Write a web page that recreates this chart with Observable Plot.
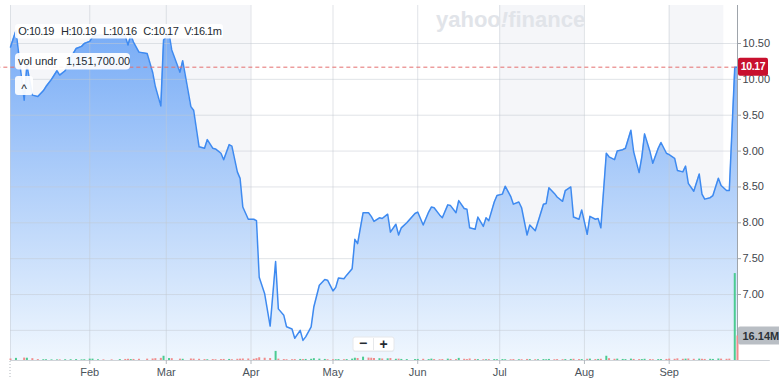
<!DOCTYPE html>
<html><head><meta charset="utf-8">
<script src="https://cdn.jsdelivr.net/npm/d3@7"></script>
<script src="https://cdn.jsdelivr.net/npm/@observablehq/plot@0.6"></script>
<style>
body{margin:0;background:#fff;}
#wrap{position:relative;width:779px;height:380px;overflow:hidden;font-family:"Liberation Sans",Arial,sans-serif;}
#wrap svg{position:absolute;left:0;top:0;}
</style></head><body><div id="wrap"></div>
<script>
// ---- data ----
const dates = [
"2023-01-03","2023-01-05","2023-01-08","2023-01-09","2023-01-11","2023-01-13","2023-01-15","2023-01-16","2023-01-18","2023-01-20","2023-01-21","2023-01-23","2023-01-25","2023-01-27","2023-01-29","2023-01-30",
"2023-02-01","2023-02-02","2023-02-04","2023-02-06","2023-02-09","2023-02-12","2023-02-14","2023-02-15","2023-02-16","2023-02-17","2023-02-19","2023-02-22","2023-02-24","2023-02-25","2023-02-27","2023-02-28",
"2023-03-02","2023-03-03","2023-03-06","2023-03-07","2023-03-10","2023-03-11","2023-03-13","2023-03-15","2023-03-16","2023-03-18","2023-03-19","2023-03-21","2023-03-22","2023-03-24","2023-03-25","2023-03-27","2023-03-28","2023-03-29","2023-03-31",
"2023-04-02","2023-04-03","2023-04-04","2023-04-06","2023-04-08","2023-04-10","2023-04-11","2023-04-13","2023-04-14","2023-04-16","2023-04-17","2023-04-19","2023-04-20","2023-04-21","2023-04-23","2023-04-24","2023-04-26","2023-04-28","2023-04-29",
"2023-05-01","2023-05-02","2023-05-03","2023-05-05","2023-05-06","2023-05-08","2023-05-09","2023-05-10","2023-05-12","2023-05-14","2023-05-15","2023-05-16","2023-05-18","2023-05-19","2023-05-21","2023-05-22","2023-05-24","2023-05-25","2023-05-26","2023-05-28","2023-05-31",
"2023-06-01","2023-06-03","2023-06-05","2023-06-06","2023-06-07","2023-06-09","2023-06-10","2023-06-12","2023-06-13","2023-06-15","2023-06-16","2023-06-18","2023-06-19","2023-06-20","2023-06-22","2023-06-23","2023-06-25","2023-06-26","2023-06-27","2023-06-29","2023-06-30",
"2023-07-02","2023-07-03","2023-07-05","2023-07-06","2023-07-08","2023-07-09","2023-07-11","2023-07-12","2023-07-14","2023-07-15","2023-07-17","2023-07-18","2023-07-19","2023-07-21","2023-07-22","2023-07-24","2023-07-25","2023-07-27","2023-07-28","2023-07-30","2023-07-31",
"2023-08-02","2023-08-03","2023-08-05","2023-08-06","2023-08-07","2023-08-09","2023-08-10","2023-08-12","2023-08-13","2023-08-15","2023-08-16","2023-08-18","2023-08-19","2023-08-21","2023-08-22","2023-08-23","2023-08-25","2023-08-26","2023-08-28","2023-08-29","2023-08-31",
"2023-09-01","2023-09-03","2023-09-04","2023-09-06","2023-09-07","2023-09-08","2023-09-10","2023-09-12","2023-09-13","2023-09-14","2023-09-16","2023-09-17","2023-09-19","2023-09-20","2023-09-22","2023-09-23","2023-09-25","2023-09-26"
];
const closes = [
10.45,10.68,9.71,10.20,9.78,9.76,9.84,9.90,10.00,10.12,10.06,10.12,10.30,10.43,10.46,10.50,
10.53,10.59,10.62,10.62,10.61,10.62,10.60,10.48,10.62,10.52,10.38,10.36,10.10,9.90,9.63,10.55,
10.64,10.41,10.10,10.26,9.62,9.57,9.06,9.04,9.16,9.04,9.03,8.97,8.88,9.09,9.07,8.71,8.62,8.22,8.05,
8.05,8.03,7.24,7.01,6.56,7.46,6.80,6.71,6.55,6.52,6.39,6.50,6.36,6.41,6.55,6.83,7.13,7.21,7.20,
7.05,7.10,7.23,7.22,7.27,7.36,7.77,7.71,8.14,8.14,8.09,8.02,8.07,8.06,8.12,7.87,7.98,7.83,7.93,8.00,8.13,
8.15,7.97,8.15,8.22,8.21,8.11,8.07,8.25,8.24,8.14,8.31,8.20,8.19,7.93,7.91,8.08,7.95,8.07,8.03,8.29,8.38,
8.40,8.51,8.37,8.26,8.29,8.21,7.83,7.97,7.89,8.01,8.26,8.27,8.49,8.41,8.36,8.30,8.45,8.50,8.08,8.05,8.18,
7.84,8.09,8.05,8.06,7.93,8.97,8.92,8.88,9.00,9.02,9.04,9.29,8.99,8.70,8.92,9.24,8.99,8.83,9.04,9.12,8.97,
8.95,8.90,8.73,8.71,8.79,8.55,8.44,8.68,8.40,8.33,8.35,8.38,8.62,8.52,8.45,8.45,10.17,10.17
];
// volume, millions
const volumes = [
1.0,1.4,1.6,1.5,1.2,0.6,0.5,0.5,0.4,0.4,0.4,0.5,0.5,0.6,0.4,0.5,
0.9,0.9,0.5,0.4,0.4,0.6,0.7,0.8,0.6,0.7,0.8,0.9,1.0,1.2,1.4,2.8,
1.3,1.2,0.9,0.8,1.0,0.9,0.8,0.6,0.5,0.6,0.5,0.6,0.7,0.7,0.5,0.8,0.9,1.0,1.0,
0.8,1.2,1.8,1.5,1.3,6.0,0.9,0.6,0.5,0.5,0.6,0.7,0.6,0.7,0.8,1.2,0.9,0.7,0.5,
0.5,0.5,0.6,0.5,0.6,0.9,1.5,1.3,2.2,1.6,1.5,1.4,1.2,1.0,1.1,1.3,0.8,0.9,0.7,0.6,0.6,
0.7,0.8,0.6,0.9,0.6,0.5,0.6,0.9,0.7,0.6,1.4,0.8,0.6,1.0,0.7,0.6,0.5,0.5,0.6,0.6,0.5,
0.6,0.5,0.5,0.6,0.5,0.5,0.7,0.6,0.5,0.5,0.6,0.5,0.7,0.5,0.6,0.5,0.6,0.7,0.8,0.6,0.6,
0.8,0.9,0.6,0.7,0.8,2.8,1.2,0.8,0.9,0.7,0.6,0.9,0.7,0.6,0.6,0.8,0.6,0.5,0.6,0.6,0.7,
0.9,0.8,1.1,0.8,0.9,1.0,0.8,0.9,0.8,0.7,0.8,0.7,1.0,0.9,0.8,0.9,57.3,16.14
];
const yTicks = [6.5,7,7.5,8,8.5,9,9.5,10,10.5];
const yLabelTicks = [7,7.5,8,8.5,9,9.5,10,10.5]; // 6.50 is hidden under the volume tag
const monthTicks = ["2023-02-01","2023-03-01","2023-04-01","2023-05-01","2023-06-01","2023-07-01","2023-08-01","2023-09-01"];
const bandStarts = ["2023-01-03","2023-07-01","2023-09-01"];
const bandEnds   = ["2023-04-01","2023-08-01","2023-09-21"];
const xDomain = ["2023-01-03","2023-09-26"];
const yDomain = [6.08, 11.03];
const volDomain = [0, 234];
const ohlcLabels = ["O:10.19","H:10.19","L:10.16","C:10.17","V:16.1m"];
const volUnderLabel = ["vol undr","1,151,700.00"];
const lastVolLabel = "16.14M";

// ---- build ----
const D = s => new Date(s);
const data = dates.map((d,i)=>({date:D(d), close:closes[i], vol:volumes[i], up: i>0 && closes[i]>closes[i-1]}));
const bands = bandStarts.map((s,i)=>({s:D(s), e:D(bandEnds[i])}));
const xStart = D(xDomain[0]), xEnd = D(xDomain[1]);
const lastClose = closes[closes.length-1];
const font = '"Liberation Sans", Arial, sans-serif';
const common = {
  width:779, height:380, marginLeft:10, marginRight:42, marginTop:5, marginBottom:20,
  x:{type:"utc", domain:[xStart,xEnd]},
  style:{fontFamily:font, fontSize:"11px", background:"transparent", overflow:"visible"}
};
const grid = {stroke:"#c3c9d1", strokeOpacity:0.5};
const pricePlot = Plot.plot({
  ...common,
  y:{domain:yDomain},
  marks:[
    Plot.rect(bands,{x1:"s",x2:"e",y1:()=>yDomain[0],y2:()=>yDomain[1],fill:"#f5f6f9"}),
    Plot.areaY(data,{x:"date",y1:()=>yDomain[0],y2:"close",fill:"url(#pxGrad)"}),
    Plot.ruleY(yTicks,grid),
    Plot.ruleX([xStart,...monthTicks.map(D)],grid),
    Plot.lineY(data,{x:"date",y:"close",stroke:"#3e8af0",strokeWidth:1.5}),
    Plot.ruleY([lastClose],{x1:()=>D("2022-12-29"),x2:()=>xEnd,stroke:"#e46e6e",strokeDasharray:"4,3"}),
    Plot.ruleY([yDomain[0]],{x1:()=>xStart,x2:()=>D("2023-10-08"),stroke:"#cfd3d8"}),
    Plot.ruleX([xEnd],{stroke:"#9ea4ab"}),
    Plot.axisY(yLabelTicks,{anchor:"right",tickSize:3,tickPadding:2,tickFormat:d=>d.toFixed(2),stroke:"#9ea4ab",fill:"#3f464d",label:null}),
    Plot.axisX(monthTicks.map(D),{anchor:"bottom",tickSize:4,tickPadding:4,tickFormat:d3.utcFormat("%b"),stroke:"#b4b9bf",fill:"#4b535b",label:null})
  ]
});
const volPlot = Plot.plot({
  ...common,
  x:{type:"utc", domain:[xStart,xEnd], axis:null},
  y:{domain:volDomain, axis:null},
  color:{type:"identity"},
  marks:[
    Plot.ruleX(data,{x:"date",y1:()=>0,y2:"vol",stroke:d=>d.up?"#4ccb92":"#f08c8c",strokeWidth:2})
  ]
});
const wrap = document.getElementById("wrap");
wrap.appendChild(pricePlot);
wrap.appendChild(volPlot);

// gradient
const defs = d3.select(pricePlot).insert("defs",":first-child");
const g = defs.append("linearGradient").attr("id","pxGrad").attr("gradientUnits","userSpaceOnUse")
  .attr("x1",0).attr("x2",0).attr("y1",30).attr("y2",360);
g.append("stop").attr("offset","0").attr("stop-color","#78acf6");
g.append("stop").attr("offset","1").attr("stop-color","#f0f7fe");

// overlay chrome
const px = pricePlot.scale("x"), py = pricePlot.scale("y"), vy = volPlot.scale("y");
const ov = d3.select(wrap).append("svg").attr("width",779).attr("height",380).style("font-family",font);
const wm = ov.append("text").attr("x",436).attr("y",27).attr("font-size",22).attr("font-weight","bold").attr("fill","#e1e4e9");
wm.append("tspan").text("yahoo");
wm.append("tspan").attr("font-style","italic").text("!");
wm.append("tspan").text("finance");

ov.append("rect").attr("x",15).attr("y",24).attr("width",208).attr("height",14.5).attr("rx",3).attr("fill","#fff").attr("fill-opacity",0.92);
const ohlcX = [18.3,61,103.3,143.3,184.3];
ohlcLabels.forEach((t,i)=>ov.append("text").attr("x",ohlcX[i]).attr("y",35).attr("font-size",11).attr("letter-spacing",-0.5).attr("fill","#232a31").text(t));

ov.append("rect").attr("x",15).attr("y",53).attr("width",115).attr("height",16.5).attr("rx",4).attr("fill","#fff").attr("fill-opacity",0.92);
ov.append("text").attr("x",18).attr("y",65).attr("font-size",11).attr("fill","#232a31").text(volUnderLabel[0]);
ov.append("text").attr("x",66).attr("y",65).attr("font-size",11).attr("fill","#232a31").text(volUnderLabel[1]);

ov.append("rect").attr("x",15).attr("y",76).attr("width",18).attr("height",19).attr("rx",3).attr("fill","#fff").attr("fill-opacity",0.92);
ov.append("text").attr("x",24).attr("y",93).attr("font-size",12).attr("text-anchor","middle").attr("fill","#232a31").text("^");

const yP = py.apply(lastClose);
ov.append("rect").attr("x",738).attr("y",yP-9).attr("width",30).attr("height",18).attr("rx",2).attr("fill","#c8102e");
ov.append("text").attr("x",753).attr("y",yP+3.7).attr("font-size",10.5).attr("font-weight","bold").attr("letter-spacing",-0.4).attr("text-anchor","middle").attr("fill","#fff").text(lastClose.toFixed(2));

const yV = vy.apply(volumes[volumes.length-1]);
ov.append("rect").attr("x",738).attr("y",yV-9).attr("width",50).attr("height",18).attr("rx",2).attr("fill","#b9bec4");
ov.append("text").attr("x",742.5).attr("y",yV+4).attr("font-size",11).attr("font-weight","bold").attr("fill","#2d3339").text(lastVolLabel);

ov.append("rect").attr("x",353).attr("y",338).attr("width",41).attr("height",14).attr("rx",2).attr("fill","#000").attr("fill-opacity",0.05);
ov.append("rect").attr("x",353).attr("y",337).attr("width",41).attr("height",14).attr("rx",2).attr("fill","#fff").attr("stroke","#e6e8eb");
ov.append("line").attr("x1",373.5).attr("x2",373.5).attr("y1",338).attr("y2",350).attr("stroke","#e6e8eb");
ov.append("text").attr("x",363).attr("y",348).attr("font-size",14).attr("font-weight","bold").attr("text-anchor","middle").attr("fill","#232a31").text("\u2212");
ov.append("text").attr("x",383.5).attr("y",348.5).attr("font-size",14).attr("font-weight","bold").attr("text-anchor","middle").attr("fill","#232a31").text("+");

ov.append("line").attr("x1",px.apply(xStart)).attr("x2",px.apply(xStart)).attr("y1",361).attr("y2",378).attr("stroke","#b0b6bd").attr("stroke-dasharray","1,2");
</script></body></html>
